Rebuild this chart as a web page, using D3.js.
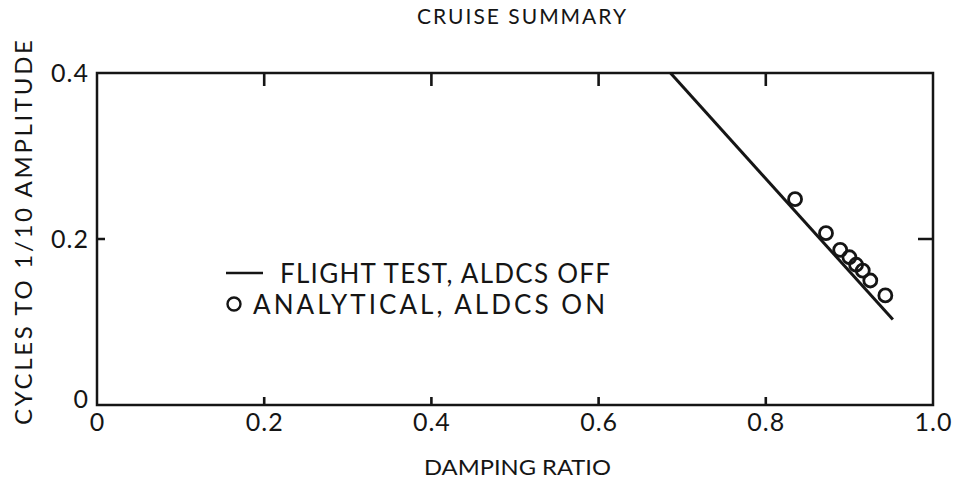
<!DOCTYPE html>
<html>
<head>
<meta charset="utf-8">
<script src="https://cdn.jsdelivr.net/npm/d3@7"></script>
<style>
  body { margin: 0; background: #fff; }
  svg text { font-family: Lato, "DejaVu Sans", sans-serif; fill: #151515; }
</style>
</head>
<body>
<div class="chart"></div>
<script>

// data
const flightX = [0.686, 0.952];
const flightY = [0.4, 0.103];

const analyticalX = [0.835, 0.872, 0.889, 0.900, 0.908, 0.916, 0.925, 0.943];
const analyticalY = [0.248, 0.207, 0.187, 0.178, 0.169, 0.162, 0.150, 0.132];

const xTicks = [0, 0.2, 0.4, 0.6, 0.8, 1.0];
const xTickLabels = ["0", "0.2", "0.4", "0.6", "0.8", "1.0"];
const yTicks = [0, 0.2, 0.4];
const yTickLabels = ["0", "0.2", "0.4"];

const legendLabels = ["FLIGHT TEST, ALDCS OFF", "ANALYTICAL, ALDCS ON"];

var width = 957, height = 487;
var margin = {top: 73, right: 24, bottom: 82, left: 97};
var ink = "#151515";

var svg = d3.select(".chart")
    .append("svg")
    .attr("width", width)
    .attr("height", height);

var x = d3.scaleLinear().domain([0, 1]).range([margin.left, width - margin.right]);
var y = d3.scaleLinear().domain([0, 0.4]).range([height - margin.bottom, margin.top]);

// frame
svg.append("rect")
    .attr("x", x(0))
    .attr("y", y(0.4))
    .attr("width", x(1) - x(0))
    .attr("height", y(0) - y(0.4))
    .attr("fill", "none")
    .attr("stroke", ink)
    .attr("stroke-width", 2.5);

// tick labels from the axes, tick marks drawn separately
var xAxis = svg.append("g")
    .attr("transform", "translate(0," + y(0) + ")")
    .call(d3.axisBottom(x)
        .tickValues(xTicks)
        .tickSize(0)
        .tickPadding(8)
        .tickFormat(function(d, i) { return xTickLabels[i]; }));
xAxis.select(".domain").remove();

var yAxis = svg.append("g")
    .attr("transform", "translate(" + x(0) + ",0)")
    .call(d3.axisLeft(y)
        .tickValues(yTicks)
        .tickSize(0)
        .tickPadding(8)
        .tickFormat(function(d, i) { return yTickLabels[i]; }));
yAxis.select(".domain").remove();

svg.selectAll(".tick text")
    .style("font-size", "25px")
    .style("letter-spacing", "1px")
    .attr("fill", ink);

// left "0" label sits a little lower in the original
yAxis.selectAll(".tick text")
    .filter(function(d) { return d === 0; })
    .attr("dy", "0.1em");

// inward tick marks: one path, bottom short, top longer
var innerTicks = xTicks.slice(1, -1);
var tickPath = d3.path();
innerTicks.forEach(function(d) {
    tickPath.moveTo(x(d), y(0));
    tickPath.lineTo(x(d), y(0) - 8);
    tickPath.moveTo(x(d), y(0.4));
    tickPath.lineTo(x(d), y(0.4) + 13);
});
tickPath.moveTo(x(0), y(0.2));
tickPath.lineTo(x(0) + 8, y(0.2));
tickPath.moveTo(x(1), y(0.2));
tickPath.lineTo(x(1) - 15, y(0.2));

svg.append("path")
    .attr("d", tickPath.toString())
    .attr("fill", "none")
    .attr("stroke", ink)
    .attr("stroke-width", 2.6);

// flight test line
var line = d3.line()
    .x(function(d) { return x(d[0]); })
    .y(function(d) { return y(d[1]); });

svg.append("path")
    .datum(d3.zip(flightX, flightY))
    .attr("d", line)
    .attr("fill", "none")
    .attr("stroke", ink)
    .attr("stroke-width", 3);

// analytical points
svg.selectAll(".pt")
    .data(d3.zip(analyticalX, analyticalY))
    .enter()
    .append("circle")
    .attr("class", "pt")
    .attr("cx", function(d) { return x(d[0]); })
    .attr("cy", function(d) { return y(d[1]); })
    .attr("r", 6.5)
    .attr("fill", "none")
    .attr("stroke", ink)
    .attr("stroke-width", 2.8);

// legend
var legend = svg.append("g");
legend.append("line")
    .attr("x1", 226).attr("x2", 263)
    .attr("y1", 273).attr("y2", 273)
    .attr("stroke", ink)
    .attr("stroke-width", 2.6);
legend.append("circle")
    .attr("cx", 234).attr("cy", 304)
    .attr("r", 6.5)
    .attr("fill", "none")
    .attr("stroke", ink)
    .attr("stroke-width", 2.4);
legend.append("text")
    .attr("x", 280).attr("y", 283)
    .attr("textLength", 330)
    .attr("lengthAdjust", "spacing")
    .style("font-size", "26px")
    .text(legendLabels[0]);
legend.append("text")
    .attr("x", 253).attr("y", 314)
    .attr("textLength", 352)
    .attr("lengthAdjust", "spacing")
    .style("font-size", "26px")
    .text(legendLabels[1]);

// titles
svg.append("text")
    .attr("x", 417).attr("y", 24)
    .attr("textLength", 209)
    .attr("lengthAdjust", "spacing")
    .style("font-size", "21px")
    .text("CRUISE SUMMARY");

svg.append("text")
    .attr("x", 424).attr("y", 475)
    .attr("textLength", 187)
    .attr("lengthAdjust", "spacingAndGlyphs")
    .style("font-size", "22px")
    .text("DAMPING RATIO");

svg.append("text")
    .attr("transform", "translate(32,425) rotate(-90)")
    .attr("textLength", 385)
    .attr("lengthAdjust", "spacing")
    .style("font-size", "24px")
    .text("CYCLES TO 1/10 AMPLITUDE");

</script>
</body>
</html>
